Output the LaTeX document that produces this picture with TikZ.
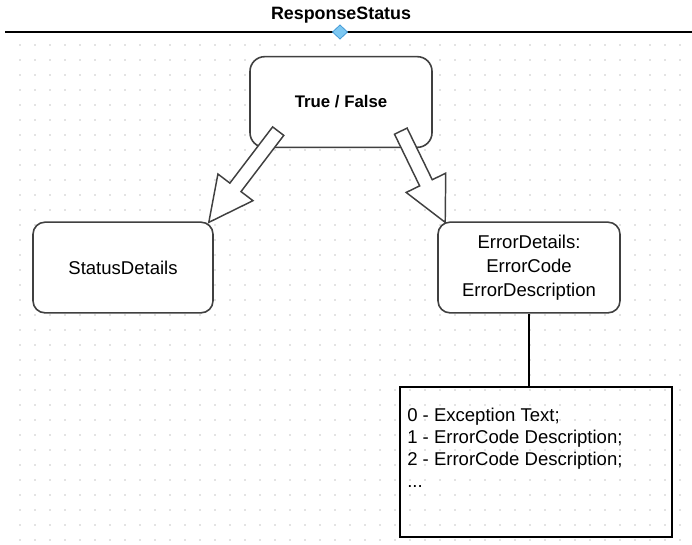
\documentclass[tikz,border=0pt]{standalone}
\usepackage{fontspec}
\setmainfont{Liberation Sans}
\usepackage{tikz}
\usetikzlibrary{calc}

\definecolor{boxline}{RGB}{64,64,64}
\definecolor{gridpt}{RGB}{200,200,200}
\definecolor{pinfill}{RGB}{125,200,242}
\definecolor{pinline}{RGB}{70,155,215}

\begin{document}
\begin{tikzpicture}[x=0.75pt,y=0.75pt,yscale=-1,xscale=1,
  roundbox/.style={draw=boxline,line width=1.2pt,fill=white,rounded corners=9pt,
    minimum width=136.5pt,minimum height=68pt,inner sep=0pt,align=center,
    font=\fontsize{13.9}{18.2}\selectfont},
  boldtext/.style={font=\fontsize{12.6}{15}\selectfont\bfseries},
  fatarrow/.style={draw=boxline,line width=1.1pt,fill=white,line join=miter},
  plain/.style={draw=black,line width=1pt}]
\useasboundingbox[fill=white] (0,0) rectangle (692,544);

%Grid dots
\foreach \gx in {20,35,...,680} {
  \foreach \gy in {45,60,...,540} {
    \fill[gridpt] (\gx,\gy) circle (0.8);
  }
}

%Header line
\draw[plain] (5,32) -- (692,32);
% Text Node
\node[boldtext,font=\fontsize{13.4}{15}\selectfont\bfseries,inner sep=0pt] (title) at (341,15) {ResponseStatus};
%Shape: Diamond
\draw[fill=pinfill,draw=pinline,line width=0.6pt] (340,25) -- (347.5,32) -- (340,39) -- (332.5,32) -- cycle;

%Shape: Rounded boxes
\node[roundbox,boldtext,rounded corners=11pt] (truefalse) at (341,102) {True / False};
\node[roundbox,minimum width=135pt] (statusdet) at (123,267.5) {StatusDetails};
\node[roundbox] (errordet) at (529,267.5) {ErrorDetails:\\ErrorCode\\ErrorDescription};

%Shape: Rectangle
\node[plain,minimum width=204pt,minimum height=112.5pt,inner sep=0pt] (codelist) at (536,462) {};
% Text Node
\node[anchor=north west,inner sep=0pt,align=left,font=\fontsize{13.9}{16.5}\selectfont] (codetext) at (407,408)
  {0 - Exception Text;\\1 - ErrorCode Description;\\2 - ErrorCode Description;\\...};

%Line
\draw[plain] (errordet.south) -- (errordet.south |- codelist.north);

%Hollow arrows
\coordinate (tfsw) at ($(truefalse.south west)+(29,-17)$);
\coordinate (sdtip) at ($(statusdet.north east)+(-5,1)$);
\coordinate (tfse) at ($(truefalse.south east)+(-32,-17)$);
\coordinate (edtip) at ($(errordet.north west)+(8,1)$);
\foreach \s/\t [count=\i] in {tfsw/sdtip,tfse/edtip} {
  \coordinate (hb\i) at ($(\t)!33pt!(\s)$);
  \draw[fatarrow] ($(\s)!5.25pt!90:(\t)$) -- ($(hb\i)!5.25pt!90:(\t)$) -- ($(hb\i)!16.5pt!90:(\t)$) -- (\t)
    -- ($(hb\i)!16.5pt!-90:(\t)$) -- ($(hb\i)!5.25pt!-90:(\t)$) -- ($(\s)!5.25pt!-90:(\t)$) -- cycle;
}
\end{tikzpicture}
\end{document}
